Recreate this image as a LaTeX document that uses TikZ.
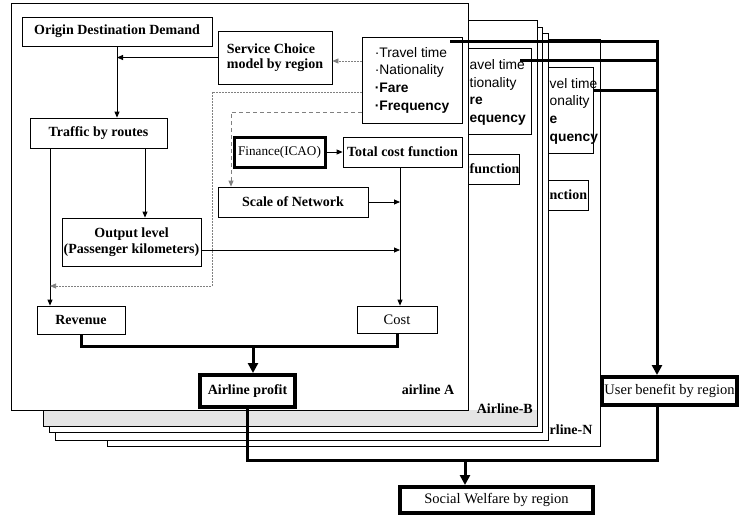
\documentclass[tikz,border=0pt]{standalone}
\usepackage{fontspec}
\setmainfont{Liberation Serif}
\newfontfamily\sansf{Liberation Sans}
\usetikzlibrary{arrows.meta}
% name, x1, y1, x2, y2, style, text
\newcommand\pbox[7]{\node[#6, minimum width={(#4-#2)*1pt}, minimum height={(#5-#3)*1pt}] (#1) at ({(#2+#4)/2},{(#3+#5)/2}) {#7};}
\tikzset{
  frame/.style={draw, fill=white, line width=0.7pt},
  box/.style={draw, fill=white, line width=0.8pt, inner sep=1pt, align=center,
    font=\fontsize{14}{15.5}\selectfont\bfseries},
  rbox/.style={box, font=\fontsize{14.5}{16}\selectfont},
  tbox/.style={box, line width=4pt},
  trbox/.style={rbox, line width=4pt},
  fbox/.style={box, line width=3pt, font=\fontsize{13.2}{15}\selectfont},
  tvbox/.style={box, align=left, font=\sansf\fontsize{13.8}{17.7}\selectfont},
  frag/.style={inner sep=0pt, align=left, anchor=west, font=\sansf\fontsize{13.8}{17.7}\selectfont},
  ffrag/.style={inner sep=0pt, anchor=west, font=\fontsize{14}{15.5}\selectfont\bfseries},
  lbl/.style={font=\fontsize{14}{15.5}\selectfont\bfseries, inner sep=0pt},
  ln/.style={line width=0.8pt},
  arr/.style={ln, -{Triangle[length=6pt,width=5pt]}},
  thk/.style={line width=3pt},
  tarr/.style={thk, -{Triangle[length=10pt,width=10pt]}},
  dots/.style={gray, line width=0.7pt, dash pattern=on 1.5pt off 1.5pt},
  dsh/.style={gray, line width=0.8pt, dash pattern=on 4pt off 3pt},
  dtip/.style={-{Triangle[length=6pt,width=5pt]}}
}
\begin{document}
\begin{tikzpicture}[x=1pt,y=-1pt]
\useasboundingbox (0,0) rectangle (739,517);
% ---- airline N (only its right edge shows)
\draw[frame] (107,39) rectangle (600,446);
\pbox{tvN}{493}{67}{593}{153}{box}{}
\pbox{tcfN}{469}{180}{588}{210}{box}{}
% ---- intermediate layers
\draw[frame] (55,33) rectangle (548,440);
\draw[frame] (49,27) rectangle (542,432);
\node[frag] (tvNt) at (549.5,111) {vel time\\onality\\\textbf{e}\\\textbf{quency}};
\node[ffrag] (tcfNt) at (549.5,195) {nction};
\node[lbl, anchor=west] (labN) at (549.5,430) {rline-N};
% ---- airline B
\draw[frame] (43,20) rectangle (537,426);
\fill[gray!20] (43.5,410) rectangle (536.5,425.5);
\pbox{tvB}{431}{48}{531}{134}{box}{}
\pbox{tcfB}{400}{154}{519}{184}{box}{}
\node[lbl, anchor=east] (labB) at (533,409) {Airline-B};
% ---- airline A
\draw[frame] (11,3) rectangle (468,410);
\node[frag] (tvBt) at (469.5,92.5) {avel time\\tionality\\\textbf{re}\\\textbf{equency}};
\node[ffrag] (tcfBt) at (469.5,169) {function};
\node[lbl] (labA) at (428,390) {airline A};
\pbox{od}{22}{17}{212}{46}{box}{Origin Destination Demand}
\pbox{sc}{218}{31}{332}{84}{box, align=left}{Service Choice\\model by region}
\pbox{tvA}{362}{37}{462}{123}{tvbox}{\textperiodcentered Travel time\\\textperiodcentered Nationality\\\textbf{\textperiodcentered Fare}\\\textbf{\textperiodcentered Frequency}}
\pbox{tr}{30}{118}{167}{148}{box}{Traffic by routes}
\pbox{fin}{234}{137}{325}{167}{fbox}{Finance(ICAO)}
\pbox{tcf}{343}{137}{462}{167}{box}{Total cost function}
\pbox{scale}{218}{187}{368}{217}{box}{Scale of Network}
\pbox{ol}{62}{218}{201}{266}{box, inner sep=0pt}{Output level\\(Passenger kilometers)}
\pbox{rev}{37}{306}{125}{334}{box}{Revenue}
\pbox{cost}{357}{306}{437}{333}{rbox}{Cost}
\pbox{profit}{200}{375}{295}{407}{tbox}{Airline profit}
\pbox{ub}{602}{377}{737}{405}{trbox, inner sep=0pt}{User benefit by region}
\pbox{sw}{400}{487}{593}{513}{trbox}{Social Welfare by region}
% ---- helper coordinates
\coordinate (vx) at (400,0);
\coordinate (lx) at (50,0);
\coordinate (ox) at (145,0);
\coordinate (d61) at (0,61);
\coordinate (d92) at (0,92);
\coordinate (d112) at (0,112);
\coordinate (fb) at (212,286);
\coordinate (sx) at (231,0);
\coordinate (y250) at (0,250);
\coordinate (rc) at (253,346);
\coordinate (hub) at (657,41);
\coordinate (jn) at (465,460);
\coordinate (sA) at (450,41);
\coordinate (sB) at (520,60);
\coordinate (sN) at (593,90);
% ---- thin connectors
\draw[arr] (od.south) -- (od.south |- tr.north);
\draw[arr] (sc.west) -- (sc.west -| od.south);
\draw[arr] (tr.south -| lx) -- (rev.north -| lx);
\draw[arr] (tr.south -| ox) -- (ol.north -| ox);
\draw[arr] (ol.east |- y250) -- (vx |- y250);
\draw[arr] (scale.east) -- (scale.east -| vx);
\draw[arr] (fin.east) -- (tcf.west);
\draw[arr] (tcf.south -| vx) -- (cost.north -| vx);
% ---- dotted / dashed feedbacks
\draw[dots, dtip] (tvA.west |- d61) -- (sc.east |- d61);
\draw[dots, dtip] (tvA.west |- d92) -| (fb) -- (fb -| lx);
\draw[dsh, dtip] (tvA.west |- d112) -| (scale.north -| sx);
% ---- thick connectors
\draw[thk] (rev.south) |- (rc) -| (cost.south);
\draw[tarr] (rc) -- (rc |- profit.north);
\draw[tarr] (sA) -- (hub) -- (hub |- ub.north);
\draw[thk] (sB) -- (sB -| hub);
\draw[thk] (sN) -- (sN -| hub);
\draw[thk] (profit.south) |- (hub |- jn) -- (hub |- ub.south);
\draw[tarr] (jn) -- (jn |- sw.north);
\end{tikzpicture}
\end{document}
